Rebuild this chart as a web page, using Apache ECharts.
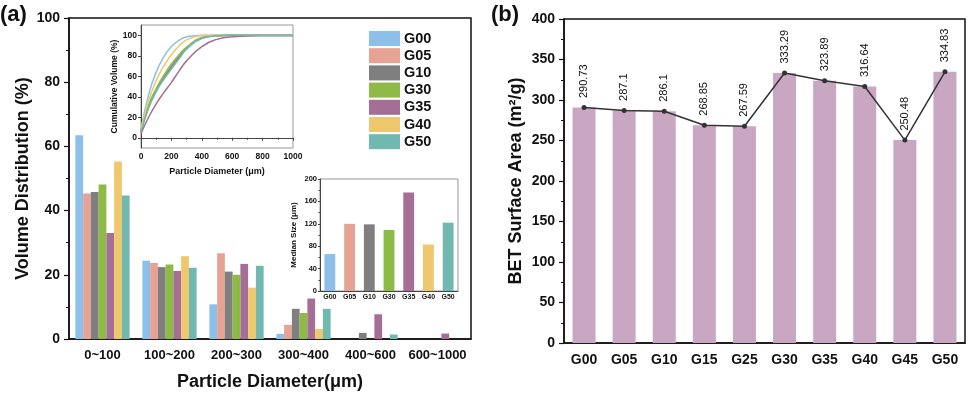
<!DOCTYPE html>
<html>
<head>
<meta charset="utf-8">
<script src="https://cdn.jsdelivr.net/npm/echarts@6/dist/echarts.min.js"></script>
<style>
  html, body { margin: 0; padding: 0; background: #fff; }
  #chart { width: 969px; height: 396px; }
</style>
</head>
<body>
<div id="chart"></div>
<script>
// ---- data ----
const groups = ['G00', 'G05', 'G10', 'G30', 'G35', 'G40', 'G50']
const ranges = ['0~100', '100~200', '200~300', '300~400', '400~600', '600~1000']

// volume distribution (%) per diameter range
const volG00 = [63.5, 24.4, 10.8, 1.6, 0, 0]
const volG05 = [45.3, 23.7, 26.7, 4.4, 0, 0]
const volG10 = [45.8, 22.4, 21.0, 9.4, 1.9, 0]
const volG30 = [48.1, 23.2, 20.0, 8.1, 0, 0]
const volG35 = [33.0, 21.2, 23.4, 12.6, 7.7, 1.7]
const volG40 = [55.3, 25.8, 16.0, 3.1, 0, 0]
const volG50 = [44.7, 22.2, 22.8, 9.4, 1.4, 0]

// cumulative volume (%) at diameter points (um)
const diaPoints = [0, 50, 100, 150, 200, 250, 300, 400, 500, 600, 800, 1000]
const cumG00 = [8, 42, 64, 79, 89, 95, 98.5, 100, 100, 100, 100, 100]
const cumG05 = [6, 30, 46, 59, 70, 80, 88, 97.5, 99.8, 100, 100, 100]
const cumG10 = [6, 30, 46, 58, 69, 78.5, 87, 97, 99.5, 100, 100, 100]
const cumG30 = [7, 32, 48, 61, 72, 81, 88.5, 97.8, 99.8, 100, 100, 100]
const cumG35 = [4, 20, 33, 44, 54, 65, 75, 89, 96, 98.5, 99.5, 99.5]
const cumG40 = [9, 36, 56, 70, 81, 89.5, 95.5, 99.7, 100, 100, 100, 100]
const cumG50 = [6, 29, 45, 57, 67, 77, 86.5, 97, 99.5, 100, 100, 100]

// median size (um)
const medianSize = [66, 120, 119, 109, 176, 83, 122]

// BET surface area (m2/g)
const betSamples = ['G00', 'G05', 'G10', 'G15', 'G25', 'G30', 'G35', 'G40', 'G45', 'G50']
const betArea = [290.73, 287.1, 286.1, 268.85, 267.59, 333.29, 323.89, 316.64, 250.48, 334.83]

// ---- style ----
const colors = ['#8cc0ea', '#e6a293', '#7f7f7f', '#8dbb46', '#a46e96', '#efc76c', '#71b8b0']
const font = 'Arial, "Liberation Sans", sans-serif'
const volData = [volG00, volG05, volG10, volG30, volG35, volG40, volG50]
const cumData = [cumG00, cumG05, cumG10, cumG30, cumG35, cumG40, cumG50]

const chart = echarts.init(document.getElementById('chart'))

const boldLabel = (size, extra) => Object.assign({
  color: '#111', fontFamily: font, fontWeight: 'bold', fontSize: size
}, extra || {})

const series = []
groups.forEach((g, i) => {
  series.push({
    name: g,
    type: 'bar',
    xAxisIndex: 0,
    yAxisIndex: 0,
    barGap: '0%',
    barCategoryGap: '19%',
    itemStyle: { color: colors[i] },
    data: volData[i]
  })
})
groups.forEach((g, i) => {
  series.push({
    name: 'cum' + g,
    type: 'line',
    xAxisIndex: 2,
    yAxisIndex: 1,
    smooth: true,
    showSymbol: false,
    lineStyle: { color: colors[i], width: 1.5 },
    data: diaPoints.map((d, k) => [d, cumData[i][k]])
  })
})
series.push({
  name: 'median',
  type: 'bar',
  xAxisIndex: 3,
  yAxisIndex: 2,
  barCategoryGap: '45%',
  data: medianSize.map((v, i) => ({ value: v, itemStyle: { color: colors[i] } }))
})
series.push({
  name: 'betBar',
  type: 'bar',
  xAxisIndex: 4,
  yAxisIndex: 3,
  barWidth: 23,
  itemStyle: { color: '#c9a7c2' },
  data: betArea
})
series.push({
  name: 'betLine',
  type: 'line',
  xAxisIndex: 4,
  yAxisIndex: 3,
  symbol: 'circle',
  symbolSize: 5,
  itemStyle: { color: '#333' },
  lineStyle: { color: '#333', width: 1.5 },
  label: {
    show: true,
    position: 'top',
    rotate: 90,
    align: 'left',
    verticalAlign: 'middle',
    distance: 7,
    color: '#111',
    fontFamily: font,
    fontSize: 11
  },
  data: betArea
})

const option = {
  animation: false,
  textStyle: { fontFamily: font },
  graphic: [
    { type: 'text', left: 0, top: 4, style: { text: '(a)', font: 'bold 22px ' + font, fill: '#111' } },
    { type: 'text', left: 491, top: 4, style: { text: '(b)', font: 'bold 22px ' + font, fill: '#111' } }
  ],
  legend: {
    data: groups,
    orient: 'vertical',
    left: 369,
    top: 31,
    padding: 0,
    icon: 'rect',
    itemWidth: 31,
    itemHeight: 15,
    itemGap: 2.2,
    selectedMode: false,
    textStyle: boldLabel(14.5, { padding: [0, 0, 0, -1] })
  },
  grid: [
    { left: 69, top: 18, width: 402, height: 325, show: true, borderColor: '#111', borderWidth: 1.5 },
    { left: 141, top: 25, width: 152, height: 123, show: true, borderColor: '#999', borderWidth: 1 },
    { left: 320, top: 179, width: 138, height: 112, show: true, borderColor: '#999', borderWidth: 1 },
    { left: 564, top: 19, width: 401, height: 324, show: true, borderColor: '#111', borderWidth: 1.5 }
  ],
  xAxis: [
    {
      type: 'category', gridIndex: 0, data: ranges,
      name: 'Particle Diameter(\u03bcm)', nameLocation: 'middle', nameGap: 34,
      nameTextStyle: boldLabel(18),
      axisLine: { lineStyle: { color: '#111', width: 1.5 } },
      axisTick: { length: 4, lineStyle: { color: '#111', width: 1.2 } },
      axisLabel: boldLabel(13, { margin: 10, interval: 0 })
    },
    {
      type: 'category', gridIndex: 0, data: ranges, position: 'bottom',
      axisLine: { show: false },
      axisTick: { alignWithLabel: true, interval: 0, length: 5, lineStyle: { color: '#111', width: 1.2 } },
      axisLabel: { show: false }
    },
    {
      type: 'value', gridIndex: 1, min: 0, max: 1000, interval: 200,
      name: 'Particle Diameter (\u03bcm)', nameLocation: 'middle', nameGap: 19,
      nameTextStyle: boldLabel(9),
      splitLine: { show: false },
      axisLine: { lineStyle: { color: '#444', width: 1 } },
      axisTick: { length: 3, lineStyle: { color: '#444' } },
      minorTick: { show: true, splitNumber: 2, length: 2, lineStyle: { color: '#444' } },
      axisLabel: boldLabel(8.5, { margin: 4, formatter: v => String(v) })
    },
    {
      type: 'category', gridIndex: 2, data: groups,
      axisLine: { lineStyle: { color: '#444', width: 1 } },
      axisTick: { alignWithLabel: true, length: 2, lineStyle: { color: '#444' } },
      axisLabel: boldLabel(7, { margin: 3, interval: 0 })
    },
    {
      type: 'category', gridIndex: 3, data: betSamples,
      axisLine: { lineStyle: { color: '#111', width: 1.5 } },
      axisTick: { alignWithLabel: true, length: 5, lineStyle: { color: '#111', width: 1.2 } },
      axisLabel: boldLabel(14, { margin: 10, interval: 0 })
    }
  ],
  yAxis: [
    {
      type: 'value', gridIndex: 0, min: 0, max: 100, interval: 20,
      name: 'Volume Distribution (%)', nameLocation: 'middle', nameGap: 37,
      nameTextStyle: boldLabel(18),
      splitLine: { show: false },
      axisLine: { show: true, lineStyle: { color: '#111', width: 1.5 } },
      axisTick: { show: true, length: 5, lineStyle: { color: '#111', width: 1.2 } },
      minorTick: { show: true, splitNumber: 2, length: 3, lineStyle: { color: '#111' } },
      axisLabel: boldLabel(14, { margin: 9 })
    },
    {
      type: 'value', gridIndex: 1, min: -10, max: 110,
      name: 'Cumulative Volume (%)', nameLocation: 'middle', nameGap: 21,
      nameTextStyle: boldLabel(8.5),
      splitLine: { show: false },
      axisLine: { show: true, lineStyle: { color: '#444', width: 1 } },
      axisTick: { show: true, length: 3, customValues: [0, 20, 40, 60, 80, 100], lineStyle: { color: '#444' } },
      axisLabel: boldLabel(8.5, { margin: 4, customValues: [0, 20, 40, 60, 80, 100] })
    },
    {
      type: 'value', gridIndex: 2, min: 0, max: 200, interval: 40,
      name: 'Median Size (\u03bcm)', nameLocation: 'middle', nameGap: 22,
      nameTextStyle: boldLabel(8),
      splitLine: { show: false },
      axisLine: { show: true, lineStyle: { color: '#444', width: 1 } },
      axisTick: { show: true, length: 2, lineStyle: { color: '#444' } },
      minorTick: { show: true, splitNumber: 2, length: 1.5, lineStyle: { color: '#444' } },
      axisLabel: boldLabel(7.5, { margin: 3 })
    },
    {
      type: 'value', gridIndex: 3, min: 0, max: 400, interval: 50,
      name: 'BET Surface Area (m\u00b2/g)', nameLocation: 'middle', nameGap: 39,
      nameTextStyle: boldLabel(18),
      splitLine: { show: false },
      axisLine: { show: true, lineStyle: { color: '#111', width: 1.5 } },
      axisTick: { show: true, length: 5, lineStyle: { color: '#111', width: 1.2 } },
      minorTick: { show: true, splitNumber: 2, length: 3, lineStyle: { color: '#111' } },
      axisLabel: boldLabel(14, { margin: 9 })
    }
  ],
  series: series
}

chart.setOption(option)
</script>
</body>
</html>
